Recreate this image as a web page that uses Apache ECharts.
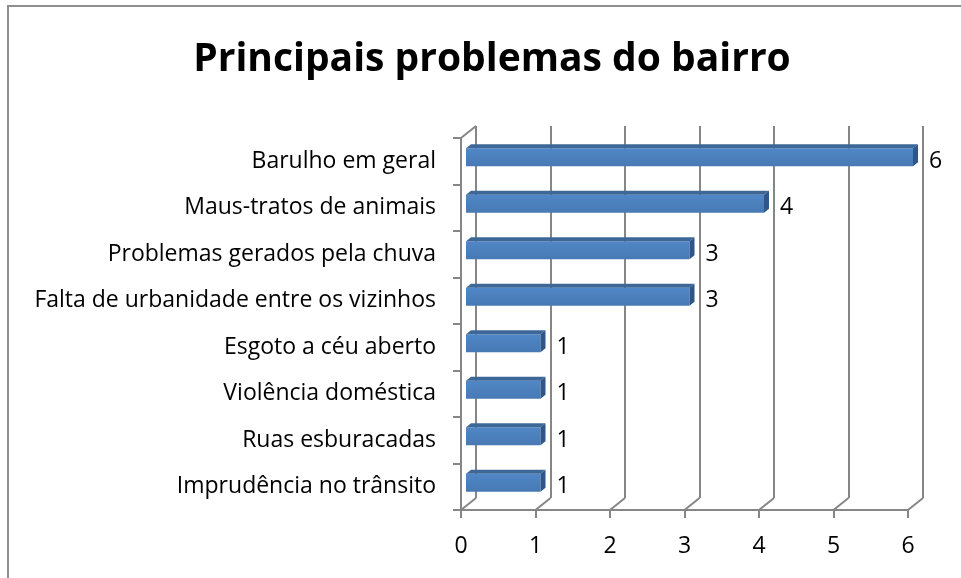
<!DOCTYPE html>
<html>
<head>
<meta charset="utf-8">
<script src="https://cdn.jsdelivr.net/npm/echarts@6/dist/echarts.min.js"></script>
<style>
  html, body { margin: 0; padding: 0; background: #fff; }
  #chart { width: 961px; height: 578px; }
</style>
</head>
<body>
<div id="chart"></div>
<script>
// dados do gráfico
const categories = [
  'Barulho em geral',
  'Maus-tratos de animais',
  'Problemas gerados pela chuva',
  'Falta de urbanidade entre os vizinhos',
  'Esgoto a céu aberto',
  'Violência doméstica',
  'Ruas esburacadas',
  'Imprudência no trânsito'
]
const values = [6, 4, 3, 3, 1, 1, 1, 1]
const xTicks = [0, 1, 2, 3, 4, 5, 6]

const FONT = '"Open Sans", sans-serif'
const GRAY = '#868686'
// deslocamento da parede de fundo (efeito 3D)
const DX = 15
const DY = 12

const chart = echarts.init(document.getElementById('chart'))

// barra 3D: face frontal + topo + lateral
function renderBar(params, api) {
  const v = api.value(0)
  const cat = api.value(1)
  const p0 = api.coord([0, cat])
  const p1 = api.coord([v, cat])
  const x0 = p0[0] + 5
  const x1 = p1[0] + 5
  const yTop = p0[1] - 13
  const yBot = p0[1] + 5
  const d = 5, e = 4
  return {
    type: 'group',
    children: [
      {
        type: 'rect',
        shape: { x: x0, y: yTop, width: x1 - x0, height: yBot - yTop },
        style: {
          fill: new echarts.graphic.LinearGradient(0, 0, 0, 1, [
            { offset: 0, color: '#5087c6' },
            { offset: 1, color: '#4779b4' }
          ])
        }
      },
      {
        type: 'polygon',
        shape: { points: [[x0, yTop], [x1, yTop], [x1 + d, yTop - e], [x0 + d, yTop - e]] },
        style: { fill: '#3d6797' }
      },
      {
        type: 'polygon',
        shape: { points: [[x1, yTop], [x1 + d, yTop - e], [x1 + d, yBot - e], [x1, yBot]] },
        style: { fill: '#2f5687' }
      },
      {
        type: 'text',
        style: {
          x: p1[0] + 21, y: p0[1],
          text: String(v),
          fill: '#000', font: '23px ' + FONT,
          align: 'left', verticalAlign: 'middle'
        }
      }
    ]
  }
}

// linhas diagonais entre o plano frontal e o fundo
function renderDiag(params, api) {
  const cs = params.coordSys
  const v = api.value(0)
  const x = api.coord([v, 0])[0]
  const yb = cs.y + cs.height
  const children = [{
    type: 'line',
    shape: { x1: x, y1: yb, x2: x + DX, y2: yb - DY },
    style: { stroke: GRAY, lineWidth: 2 }
  }]
  if (v === 0) {
    children.push({
      type: 'line',
      shape: { x1: x, y1: cs.y, x2: x + DX, y2: cs.y - DY },
      style: { stroke: GRAY, lineWidth: 2 }
    })
  }
  return { type: 'group', children }
}

const option = {
  animation: false,
  backgroundColor: '#fff',
  title: {
    text: 'Principais problemas do bairro',
    left: 487,
    textAlign: 'center',
    top: 35,
    textStyle: { fontFamily: FONT, fontSize: 39, fontWeight: 'bold', color: '#000' }
  },
  graphic: [{
    type: 'rect',
    shape: { x: 8, y: 6, width: 970, height: 600 },
    style: { fill: null, stroke: '#8e8e8e', lineWidth: 2 },
    silent: true
  }],
  grid: [
    { left: 461, right: 53, top: 138, bottom: 68 },
    { left: 461 + DX, right: 53 - DX, top: 138 - DY, bottom: 68 + DY }
  ],
  xAxis: [
    {
      gridIndex: 0, type: 'value', min: 0, max: 6, interval: 1,
      axisLine: { show: true, lineStyle: { color: GRAY, width: 2 } },
      axisTick: { show: true, length: 8, lineStyle: { color: GRAY, width: 2 } },
      axisLabel: { color: '#000', fontSize: 23, fontFamily: FONT, margin: 25 },
      splitLine: { show: false }
    },
    {
      gridIndex: 1, type: 'value', min: 0, max: 6, interval: 1,
      axisLine: { show: false }, axisTick: { show: false }, axisLabel: { show: false },
      splitLine: { show: true, lineStyle: { color: GRAY, width: 2 } }
    }
  ],
  yAxis: [
    {
      gridIndex: 0, type: 'category', data: categories, inverse: true,
      axisLine: { show: true, lineStyle: { color: GRAY, width: 2 } },
      axisTick: { show: true, length: 8, lineStyle: { color: GRAY, width: 2 } },
      axisLabel: { color: '#000', fontSize: 23, fontFamily: FONT, margin: 25 }
    },
    {
      gridIndex: 1, type: 'category', data: categories, inverse: true, show: false
    }
  ],
  series: [
    {
      type: 'custom',
      xAxisIndex: 0, yAxisIndex: 0,
      renderItem: renderDiag,
      data: xTicks.map(v => [v, 0]),
      encode: { x: 0, y: 1 },
      silent: true
    },
    {
      type: 'custom',
      xAxisIndex: 0, yAxisIndex: 0,
      renderItem: renderBar,
      data: values.map((v, i) => [v, i]),
      encode: { x: 0, y: 1 },
      z: 5
    }
  ]
}

chart.setOption(option)
window.addEventListener('resize', () => chart.resize())
</script>
</body>
</html>
